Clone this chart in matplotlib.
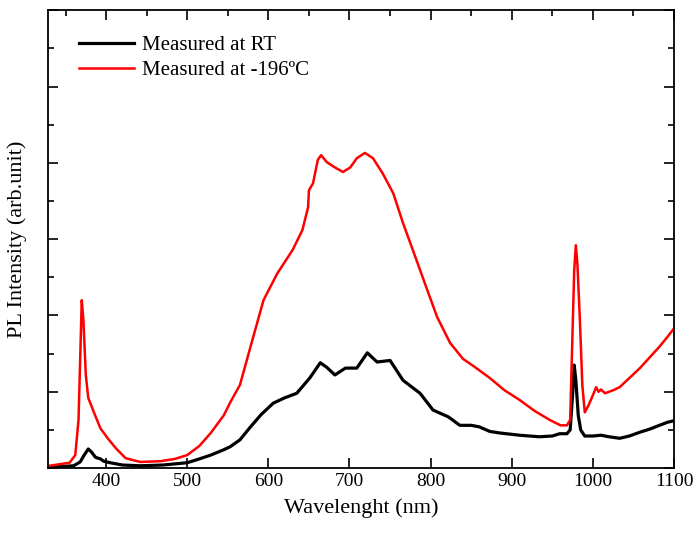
import numpy as np
import matplotlib
matplotlib.use("Agg")
import matplotlib.pyplot as plt
from matplotlib.ticker import MultipleLocator, NullFormatter

# wavelength (nm) / intensity (arb.)
wl_lt = [330, 355, 362, 366, 368, 370, 372, 375, 378, 385, 393, 402, 412, 424, 442,
         467, 485, 500, 515, 529, 545, 553, 565, 578, 594, 611, 630, 642, 649, 650,
         655, 661, 665, 672, 682, 692, 701, 709, 719, 729, 741, 754, 766, 778, 796,
         808, 824, 840, 855, 873, 891, 910, 928, 947, 960, 968, 972, 975, 977, 979,
         981, 984, 987, 990, 995, 1001, 1004, 1007, 1010, 1015, 1025, 1033, 1045,
         1058, 1070, 1082, 1092, 1100]
pl_lt = [0.03, 0.07, 0.17, 0.63, 1.41, 2.20, 1.94, 1.22, 0.92, 0.73, 0.52, 0.39, 0.26,
         0.13, 0.08, 0.09, 0.12, 0.17, 0.29, 0.46, 0.69, 0.86, 1.09, 1.59, 2.20, 2.55,
         2.86, 3.12, 3.42, 3.64, 3.73, 4.04, 4.10, 4.01, 3.94, 3.88, 3.94, 4.06, 4.13,
         4.06, 3.86, 3.60, 3.21, 2.86, 2.33, 1.98, 1.64, 1.43, 1.32, 1.18, 1.02, 0.89,
         0.75, 0.63, 0.56, 0.56, 0.63, 1.81, 2.59, 2.92, 2.66, 1.94, 1.09, 0.73, 0.83,
         0.98, 1.06, 1.00, 1.03, 0.98, 1.02, 1.06, 1.18, 1.31, 1.45, 1.59, 1.72, 1.83]

wl_rt = [330, 360, 368, 373, 378, 382, 387, 393, 397, 405, 420, 442, 470, 500, 515,
         529, 545, 553, 565, 578, 591, 606, 620, 635, 651, 664, 672, 682, 695, 709,
         722, 734, 750, 766, 787, 803, 822, 836, 850, 860, 873, 885, 910, 934, 950,
         959, 968, 972, 975, 977, 979, 982, 985, 990, 1000, 1010, 1020, 1033, 1045,
         1058, 1070, 1082, 1092, 1100]
pl_rt = [0.01, 0.03, 0.08, 0.17, 0.25, 0.21, 0.14, 0.12, 0.09, 0.07, 0.04, 0.03, 0.04,
         0.07, 0.12, 0.17, 0.24, 0.28, 0.37, 0.54, 0.70, 0.85, 0.92, 0.98, 1.18, 1.38,
         1.32, 1.22, 1.31, 1.31, 1.51, 1.39, 1.41, 1.15, 0.98, 0.76, 0.67, 0.56, 0.56,
         0.54, 0.48, 0.46, 0.43, 0.41, 0.42, 0.45, 0.45, 0.50, 0.96, 1.35, 1.15, 0.69,
         0.50, 0.42, 0.42, 0.43, 0.41, 0.39, 0.42, 0.47, 0.51, 0.56, 0.60, 0.62]

plt.rcParams['font.family'] = ['Liberation Serif', 'DejaVu Serif']

fig = plt.figure(figsize=(6.97, 5.38), dpi=100)
ax = fig.add_axes([0.069, 0.130, 0.898, 0.851])

ax.plot(wl_rt, pl_rt, color='black', lw=2.3, label='Measured at RT')
ax.plot(wl_lt, pl_lt, color='red', lw=1.8, label='Measured at -196ºC')

ax.set_xlim(328.5, 1100)
ax.set_ylim(0, 6)
ax.xaxis.set_major_locator(MultipleLocator(100))
ax.xaxis.set_minor_locator(MultipleLocator(50))
ax.yaxis.set_major_locator(MultipleLocator(1))
ax.yaxis.set_minor_locator(MultipleLocator(0.5))
ax.yaxis.set_major_formatter(NullFormatter())
ax.tick_params(which='both', direction='in', top=True, right=True, width=1.2)
ax.tick_params(which='major', length=7, labelsize=14)
ax.tick_params(which='minor', length=4)
ax.tick_params(axis='x', which='minor', bottom=False)
for s in ax.spines.values():
    s.set_linewidth(1.3)

ax.set_xlabel('Wavelenght (nm)', fontsize=16, labelpad=6)
ax.set_ylabel('PL Intensity (arb.unit)', fontsize=16, labelpad=12)

ax.legend(loc='upper left', frameon=False, fontsize=15, handlelength=2.6,
          handletextpad=0.4, labelspacing=0.25, bbox_to_anchor=(0.02, 0.985))

fig.savefig('out.png', dpi=100)
